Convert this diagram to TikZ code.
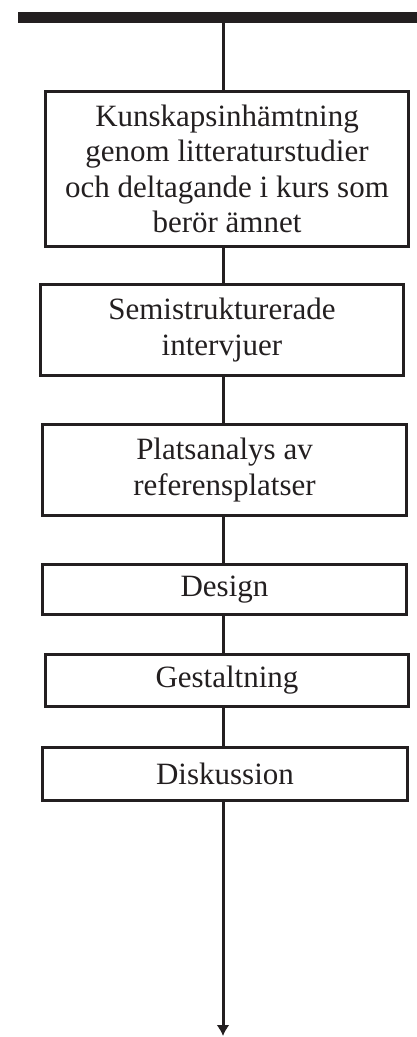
\documentclass[tikz,border=0pt]{standalone}
\usepackage{fontspec}
\setmainfont{Liberation Serif}
\usetikzlibrary{arrows.meta}
\newlength{\du}
\setlength{\du}{1pt}
\definecolor{dialinecolor}{rgb}{0.137, 0.122, 0.125}
\tikzset{
  stepbox/.style={draw=dialinecolor, line width=3\du, text=dialinecolor,
    align=center, inner sep=0pt, minimum width=363\du,
    font=\fontsize{31}{35.5}\selectfont},
  link/.style={draw=dialinecolor, line width=3\du},
}

\begin{document}
\begin{tikzpicture}[x=\du,y=-\du]
\useasboundingbox (0,0) rectangle (417,1037);
% top bar
\node[fill=dialinecolor, inner sep=0pt, minimum width=399\du, minimum height=11\du] (bar) at (217.5,17.5) {};
\coordinate (top) at (223,17.5);
\coordinate (end) at (223,1036);
% steps
\node[stepbox, minimum height=155\du] (kunskap) at (227,169)
  {Kunskapsinhämtning\\genom litteraturstudier\\och deltagande i kurs som\\berör ämnet};
\node[stepbox, minimum height=91\du] (intervju) at (222,330)
  {Semistrukturerade\\intervjuer};
\node[stepbox, minimum height=91\du, minimum width=364\du] (platsanalys) at (224.5,470)
  {Platsanalys av\\referensplatser};
\node[stepbox, minimum height=50\du, minimum width=364\du] (design) at (224.5,589.5) {Design};
\node[stepbox, minimum height=52\du] (gestaltning) at (227,680.5) {Gestaltning};
\node[stepbox, minimum height=53\du, minimum width=365\du] (diskussion) at (225,774) {Diskussion};
% connectors
\draw[link] (top) -- (kunskap.north -| top);
\draw[link] (kunskap.south -| top) -- (intervju.north -| top);
\draw[link] (intervju.south -| top) -- (platsanalys.north -| top);
\draw[link] (platsanalys.south -| top) -- (design.north -| top);
\draw[link] (design.south -| top) -- (gestaltning.north -| top);
\draw[link] (gestaltning.south -| top) -- (diskussion.north -| top);
\draw[link, -{Latex[length=11pt, width=13pt]}] (diskussion.south -| top) -- (end);
\end{tikzpicture}
\end{document}
